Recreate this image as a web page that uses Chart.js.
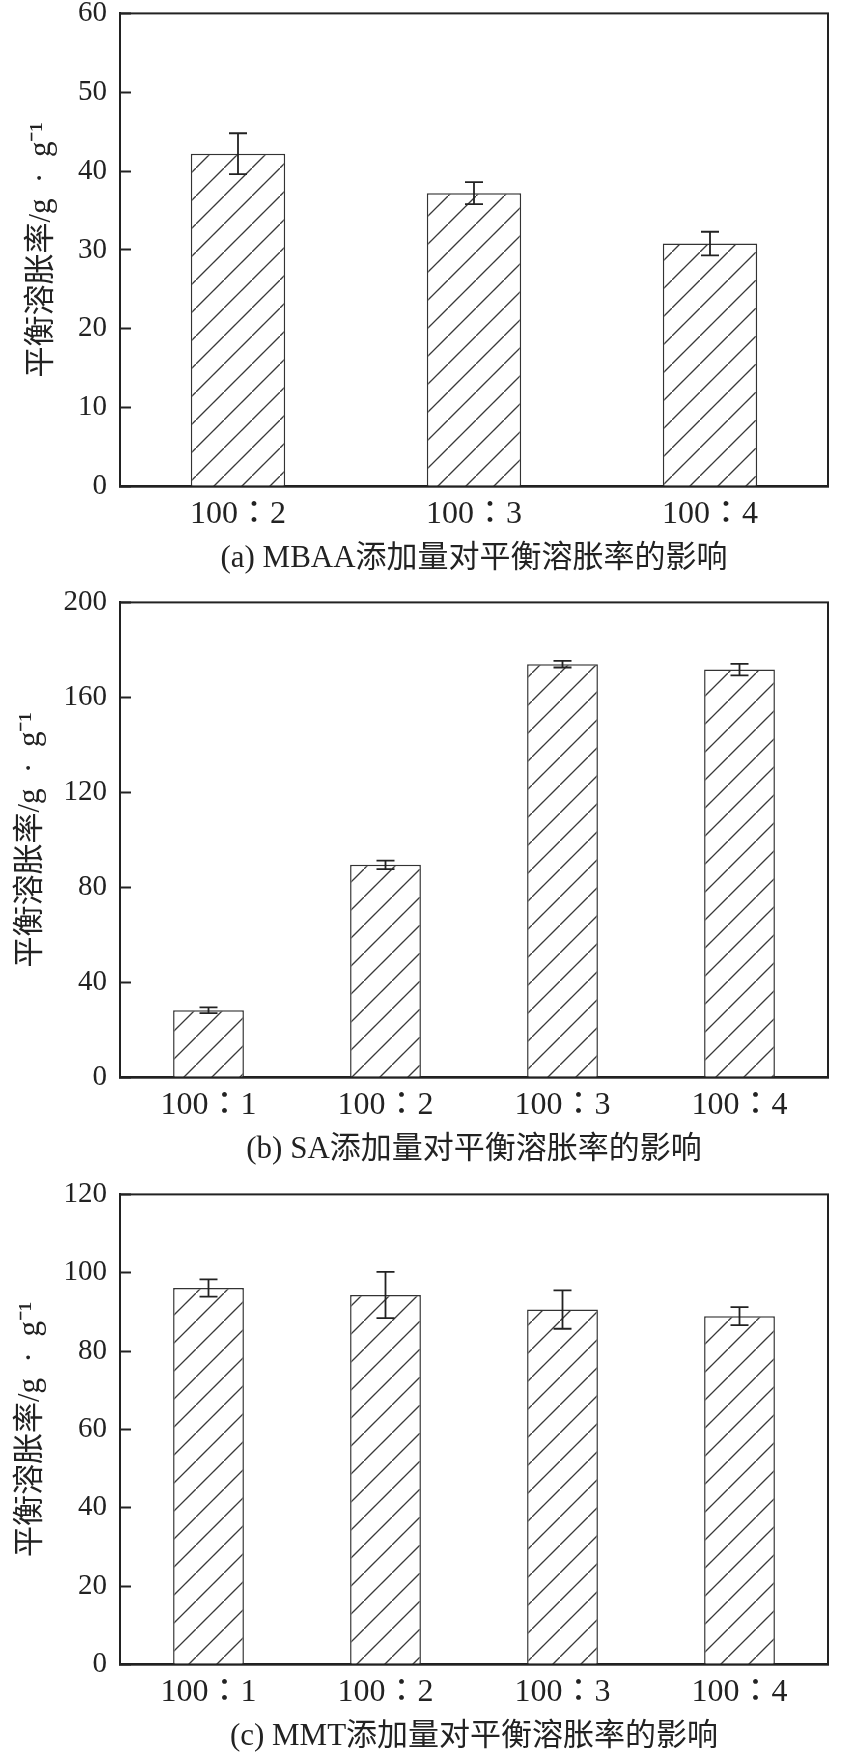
<!DOCTYPE html>
<html>
<head>
<meta charset="utf-8">
<script src="https://cdn.jsdelivr.net/npm/chart.js@4.4.1/dist/chart.umd.min.js"></script>
<style>
  body { margin: 0; background: #fff; width: 844px; height: 1757px; overflow: hidden; position: relative; }
  .box { position: absolute; left: 0; }
</style>
</head>
<body>
<div class="box" id="boxA"><canvas id="chartA" width="844" height="640"></canvas></div>
<div class="box" id="boxB"><canvas id="chartB" width="844" height="640"></canvas></div>
<div class="box" id="boxC"><canvas id="chartC" width="844" height="640"></canvas></div>
<script>
// (a) MBAA
const labelsA = ['100：2', '100：3', '100：4'];
const valuesA = [42.2, 37.2, 30.8];
const errorsA = [2.6, 1.4, 1.5];
const yMaxA = 60, yStepA = 10;

// (b) SA
const labelsB = ['100：1', '100：2', '100：3', '100：4'];
const valuesB = [28.3, 89.5, 174.0, 171.7];
const errorsB = [1.2, 1.8, 1.4, 2.4];
const yMaxB = 200, yStepB = 40;

// (c) MMT
const labelsC = ['100：1', '100：2', '100：3', '100：4'];
const valuesC = [96.1, 94.3, 90.6, 88.9];
const errorsC = [2.2, 5.9, 4.9, 2.3];
const yMaxC = 120, yStepC = 20;

const yTitle = '平衡溶胀率/g\u2002·\u2002g⁻¹';
const serif = "'Liberation Serif', 'Noto Sans CJK SC', serif";
const serifTC = "'Liberation Serif', 'Noto Sans CJK TC', serif";
const ink = '#222';
const axisH = 100;

function hatch() {
  const c = document.createElement('canvas');
  c.width = 28; c.height = 28;
  const g = c.getContext('2d');
  g.fillStyle = '#fff';
  g.fillRect(0, 0, 28, 28);
  g.strokeStyle = '#3a3a3a';
  g.lineWidth = 1.3;
  g.beginPath();
  g.moveTo(-2, 30);
  g.lineTo(30, -2);
  g.stroke();
  return g.createPattern(c, 'repeat');
}

// box around the plot
const frame = {
  id: 'frame',
  afterDraw(chart) {
    const { ctx, chartArea: a } = chart;
    ctx.save();
    ctx.strokeStyle = ink;
    ctx.lineWidth = 2;
    ctx.strokeRect(a.left, a.top, a.right - a.left, a.bottom - a.top);
    ctx.restore();
  }
};

const errorBars = {
  id: 'errorBars',
  afterDatasetsDraw(chart) {
    const ctx = chart.ctx, y = chart.scales.y;
    chart.data.datasets.forEach((ds, i) => {
      chart.getDatasetMeta(i).data.forEach((bar, j) => {
        const v = ds.data[j], e = ds.errors[j];
        const hi = y.getPixelForValue(v + e), lo = y.getPixelForValue(v - e);
        ctx.save();
        ctx.strokeStyle = ink;
        ctx.lineWidth = 1.8;
        ctx.beginPath();
        ctx.moveTo(bar.x, hi); ctx.lineTo(bar.x, lo);
        ctx.moveTo(bar.x - 9, hi); ctx.lineTo(bar.x + 9, hi);
        ctx.moveTo(bar.x - 9, lo); ctx.lineTo(bar.x + 9, lo);
        ctx.stroke();
        ctx.restore();
      });
    });
  }
};

function makeChart(id, boxId, plotTop, plotBottom, titleGap, labels, values, errors, yMax, yStep, caption) {
  const canvas = document.getElementById(id);
  const chart = new Chart(canvas, {
    type: 'bar',
    data: {
      labels: labels,
      datasets: [{
        data: values,
        errors: errors,
        backgroundColor: hatch(),
        borderColor: '#333',
        borderWidth: 1.5,
        categoryPercentage: 1,
        barPercentage: 0.4
      }]
    },
    options: {
      responsive: false,
      animation: false,
      layout: { padding: { top: 0, right: 16, left: 0, bottom: 0 } },
      plugins: { legend: { display: false }, tooltip: { enabled: false } },
      scales: {
        x: {
          grid: { display: false },
          border: { color: ink, width: 2.5 },
          ticks: { font: { family: serifTC, size: 32 }, color: ink, padding: 1 },
          title: {
            display: true, text: caption, color: ink,
            font: { family: serif, size: 31 },
            padding: { top: 0, bottom: 9 }
          },
          afterFit(s) { s.height = axisH; }
        },
        y: {
          min: 0, max: yMax,
          ticks: { stepSize: yStep, font: { family: serif, size: 29 }, color: ink, padding: 24 },
          grid: { drawOnChartArea: false, tickLength: -11, tickWidth: 2, tickColor: ink },
          border: { color: ink, width: 2 },
          title: {
            display: true, text: yTitle, color: ink,
            font: { family: serif, size: 31 },
            padding: { top: titleGap, bottom: 0 }
          },
          afterFit(s) { s.width = 120; }
        }
      }
    },
    plugins: [frame, errorBars]
  });
  // place the plot box where the figure has it
  const t = chart.chartArea.top;
  chart.options.layout.padding.bottom = canvas.height - axisH - t - (plotBottom - plotTop);
  chart.update();
  document.getElementById(boxId).style.top = (plotTop - t) + 'px';
}

makeChart('chartA', 'boxA', 13, 486, 23, labelsA, valuesA, errorsA, yMaxA, yStepA, '(a) MBAA添加量对平衡溶胀率的影响');
makeChart('chartB', 'boxB', 602, 1077, 12, labelsB, valuesB, errorsB, yMaxB, yStepB, '(b) SA添加量对平衡溶胀率的影响');
makeChart('chartC', 'boxC', 1194, 1664, 12, labelsC, valuesC, errorsC, yMaxC, yStepC, '(c) MMT添加量对平衡溶胀率的影响');
</script>
</body>
</html>
